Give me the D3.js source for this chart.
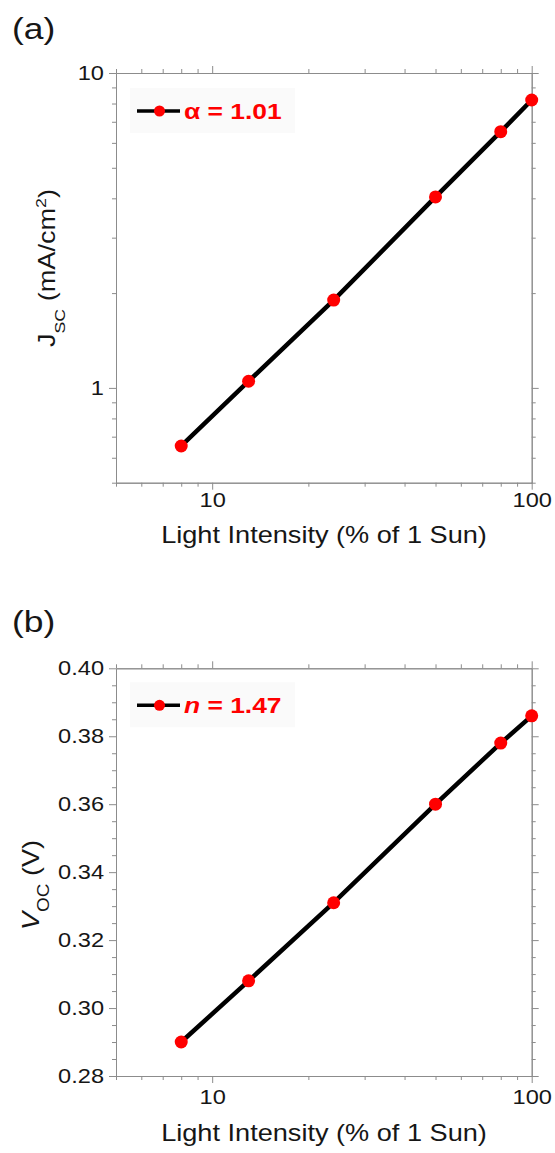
<!DOCTYPE html>
<html>
<head>
<meta charset="utf-8">
<script src="https://cdn.jsdelivr.net/npm/d3@7"></script>
<style>
  body { margin: 0; background: #fff; }
  text { font-family: "Liberation Sans", Arial, sans-serif; fill: #161616; }
  .axis path, .axis line { stroke: #8c8c8c; stroke-width: 1; }
</style>
</head>
<body>
<script>
/* light intensity (% of 1 sun) */
var intensity = [8, 13, 24, 50, 80, 100];
/* short-circuit current density (mA/cm2) */
var jsc = [0.654, 1.05, 1.90, 4.04, 6.51, 8.21];
/* open-circuit voltage (V) */
var voc = [0.290, 0.308, 0.331, 0.360, 0.378, 0.386];

/* tick values */
var xMajor = [10, 100];
var xMinor = [5, 6, 7, 8, 9, 20, 30, 40, 50, 60, 70, 80, 90];
var jscMajor = [1, 10];
var jscMinor = [0.5, 0.6, 0.7, 0.8, 0.9, 2, 3, 4, 5, 6, 7, 8, 9];
var vocMajor = [0.28, 0.30, 0.32, 0.34, 0.36, 0.38, 0.40];
var vocMinor = [0.285, 0.29, 0.295, 0.305, 0.31, 0.315, 0.325, 0.33, 0.335,
                0.345, 0.35, 0.355, 0.365, 0.37, 0.375, 0.385, 0.39, 0.395];

var SX = 1.18; // the picture's text is a bit wider than plain Arial

var svg = d3.select("body").append("svg")
    .attr("width", 555)
    .attr("height", 1153);

/* widen axis labels without moving them */
function stretchTicks(sel) {
  sel.selectAll("text").each(function() {
    var t = d3.select(this);
    var x = +t.attr("x") || 0;
    t.attr("x", 0).attr("transform", "translate(" + x + ",0) scale(" + SX + ",1)");
  });
}

function drawPanel(p) {
  var width = 415.7, height = p.height;
  var g = svg.append("g").attr("transform", "translate(116," + p.top + ")");

  var x = d3.scaleLog().domain([5, 100]).range([0, width]);
  var y = p.log ? d3.scaleLog().domain(p.yDomain).range([height, 0])
                : d3.scaleLinear().domain(p.yDomain).range([height, 0]);

  /* minor ticks on all four sides */
  g.append("g").attr("class", "axis").attr("transform", "translate(0," + height + ")")
    .call(d3.axisBottom(x).tickValues(xMinor).tickSize(4).tickSizeOuter(0).tickFormat(""));
  g.append("g").attr("class", "axis")
    .call(d3.axisTop(x).tickValues(xMinor).tickSize(4).tickSizeOuter(0).tickFormat(""));
  g.append("g").attr("class", "axis")
    .call(d3.axisLeft(y).tickValues(p.yMinor).tickSize(4).tickSizeOuter(0).tickFormat(""));
  g.append("g").attr("class", "axis").attr("transform", "translate(" + width + ",0)")
    .call(d3.axisRight(y).tickValues(p.yMinor).tickSize(4).tickSizeOuter(0).tickFormat(""));

  /* major ticks, labelled on the bottom and left */
  g.append("g").attr("class", "axis").attr("transform", "translate(0," + height + ")")
    .call(d3.axisBottom(x).tickValues(xMajor).tickSize(7).tickSizeOuter(0)
      .tickPadding(p.xPad).tickFormat(d3.format("d")))
    .call(stretchTicks)
    .selectAll("text").attr("font-size", 20).style("fill", "#161616");
  g.append("g").attr("class", "axis")
    .call(d3.axisTop(x).tickValues(xMajor).tickSize(7).tickSizeOuter(0).tickFormat(""));
  g.append("g").attr("class", "axis")
    .call(d3.axisLeft(y).tickValues(p.yMajor).tickSize(7).tickSizeOuter(0)
      .tickPadding(5).tickFormat(p.fmt))
    .call(stretchTicks)
    .selectAll("text").attr("font-size", 20).style("fill", "#161616");
  g.append("g").attr("class", "axis").attr("transform", "translate(" + width + ",0)")
    .call(d3.axisRight(y).tickValues(p.yMajor).tickSize(7).tickSizeOuter(0).tickFormat(""));
  g.selectAll(".axis").attr("font-family", null).attr("font-size", null);

  /* data line and markers */
  var pts = intensity.map(function(d, i) { return [d, p.values[i]]; });
  g.append("path")
      .datum(pts)
      .attr("fill", "none")
      .attr("stroke", "#000")
      .attr("stroke-width", 4.5)
      .attr("d", d3.line().x(function(d) { return x(d[0]); }).y(function(d) { return y(d[1]); }));
  g.selectAll("circle.pt")
    .data(pts)
    .enter().append("circle")
      .attr("class", "pt")
      .attr("cx", function(d) { return x(d[0]); })
      .attr("cy", function(d) { return y(d[1]); })
      .attr("r", 6.5)
      .attr("fill", "#ff0000");

  /* legend */
  var leg = g.append("g").attr("transform", "translate(14," + p.legTop + ")");
  leg.append("rect").attr("width", 165).attr("height", 45).attr("fill", "#fafafa");
  leg.append("line").attr("x1", 7).attr("x2", 50).attr("y1", 23).attr("y2", 23)
    .attr("stroke", "#000").attr("stroke-width", 3.5);
  leg.append("circle").attr("cx", 29.5).attr("cy", 23).attr("r", 5.5).attr("fill", "#ff0000");
  var lt = leg.append("text")
      .attr("transform", "translate(54,31) scale(1.2,1)")
      .attr("font-size", 22)
      .attr("font-weight", "bold")
      .style("fill", "#ff0000");
  lt.append("tspan").attr("font-style", p.legItalic ? "italic" : "normal").text(p.legSym);
  lt.append("tspan").text(" = " + p.legVal);

  /* x title */
  svg.append("text")
      .attr("transform", "translate(324," + p.xTitleY + ") scale(" + SX + ",1)")
      .attr("text-anchor", "middle")
      .attr("font-size", 23)
      .text("Light Intensity (% of 1 Sun)");

  /* panel letter */
  svg.append("text")
      .attr("transform", "translate(12," + p.letterY + ") scale(" + SX + ",1)")
      .attr("font-size", 30)
      .text(p.letter);

  /* y title */
  var yt = svg.append("text")
      .attr("transform", "translate(" + p.yTitleX + "," + p.yTitleY + ") rotate(-90) scale(" + SX + ",1)")
      .attr("text-anchor", "middle")
      .attr("font-size", 23);
  p.yTitle(yt);
}

drawPanel({
  top: 73, height: 409.7, log: true,
  yDomain: [0.5, 10], yMajor: jscMajor, yMinor: jscMinor, fmt: d3.format("d"),
  values: jsc, xPad: 3,
  legTop: 15, legSym: "\u03b1", legItalic: false, legVal: "1.01",
  xTitleY: 543, letter: "(a)", letterY: 39,
  yTitleX: 55, yTitleY: 268,
  yTitle: function(t) {
    t.append("tspan").text("J");
    t.append("tspan").attr("font-size", 15).attr("dy", 10).text("SC");
    t.append("tspan").attr("dy", -10).text(" (mA/cm");
    t.append("tspan").attr("font-size", 15).attr("dy", -9).text("2");
    t.append("tspan").attr("dy", 9).text(")");
  }
});

drawPanel({
  top: 668.3, height: 407.7, log: false,
  yDomain: [0.28, 0.40], yMajor: vocMajor, yMinor: vocMinor, fmt: d3.format(".2f"),
  values: voc, xPad: 7,
  legTop: 14, legSym: "n", legItalic: true, legVal: "1.47",
  xTitleY: 1141, letter: "(b)", letterY: 632,
  yTitleX: 39, yTitleY: 885,
  yTitle: function(t) {
    t.append("tspan").attr("font-style", "italic").text("V");
    t.append("tspan").attr("font-size", 16).attr("dy", 10).text("OC");
    t.append("tspan").attr("dy", -10).text(" (V)");
  }
});
</script>
</body>
</html>
